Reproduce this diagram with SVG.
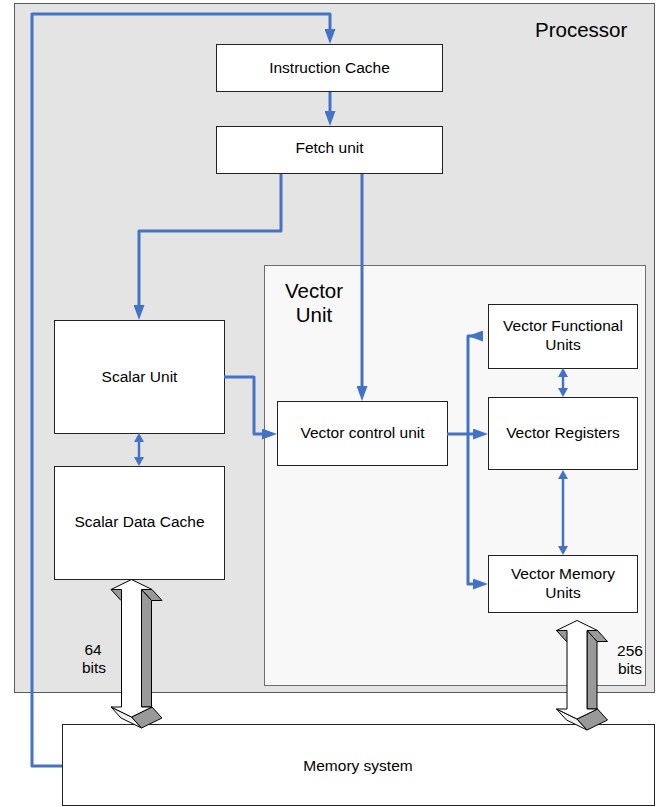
<svg xmlns="http://www.w3.org/2000/svg" width="667" height="807" viewBox="0 0 667 807">
  <style>
    .box { fill: #ffffff; stroke: #222222; stroke-width: 1; }
    .lbl { font-family: "Liberation Sans", Arial, sans-serif; font-size: 15.5px; fill: #000000; text-anchor: middle; }
    .big { font-family: "Liberation Sans", Arial, sans-serif; font-size: 20.5px; fill: #000000; }
    .wire { fill: none; stroke: #4472c4; stroke-width: 3; stroke-linejoin: round; }
    .thin { fill: none; stroke: #4472c4; stroke-width: 2.5; }
    .front { fill: #ffffff; stroke: #000000; stroke-width: 1; stroke-linejoin: miter; }
    .side { fill: #999999; stroke: #000000; stroke-width: 1; }
    .light { fill: #f2f2f2; stroke: #000000; stroke-width: 1; }
  </style>
  <defs>
    <marker id="head" markerUnits="userSpaceOnUse" markerWidth="15" markerHeight="11" refX="5" refY="5.5" orient="auto">
      <path d="M0,0 L15,5.5 L0,11 Z" fill="#4472c4"/>
    </marker>
    <marker id="small" markerUnits="userSpaceOnUse" markerWidth="9" markerHeight="10" refX="3" refY="5" orient="auto-start-reverse">
      <path d="M0,0 L9,5 L0,10 Z" fill="#4472c4"/>
    </marker>
  </defs>

  <rect width="667" height="807" fill="#ffffff"/>

  <!-- processor enclosure -->
  <g id="processor">
    <rect x="14.5" y="3.5" width="640" height="689" fill="#e4e4e4" stroke="#5a5a5a" stroke-width="1"/>
    <text class="big" x="535" y="37">Processor</text>
  </g>

  <!-- vector unit enclosure -->
  <g id="vector-unit">
    <rect x="264.5" y="265.5" width="381" height="420" fill="#f8f8f8" stroke="#6e6e6e" stroke-width="1"/>
    <text class="big" x="314" y="298" text-anchor="middle">Vector</text>
    <text class="big" x="314" y="322" text-anchor="middle">Unit</text>
  </g>

  <g id="instruction-cache">
    <rect class="box" x="216.5" y="44.5" width="226" height="47"/>
    <text class="lbl" x="329.5" y="73">Instruction Cache</text>
  </g>

  <g id="fetch-unit">
    <rect class="box" x="216.5" y="126.5" width="226" height="47"/>
    <text class="lbl" x="329.5" y="153">Fetch unit</text>
  </g>

  <g id="scalar-unit">
    <rect class="box" x="54.5" y="320.5" width="170" height="113"/>
    <text class="lbl" x="139.5" y="382">Scalar Unit</text>
  </g>

  <g id="scalar-data-cache">
    <rect class="box" x="54.5" y="466.5" width="170" height="113"/>
    <text class="lbl" x="139.5" y="527">Scalar Data Cache</text>
  </g>

  <g id="vector-control-unit">
    <rect class="box" x="277.5" y="401.5" width="170" height="64"/>
    <text class="lbl" x="362.5" y="438">Vector control unit</text>
  </g>

  <g id="vector-functional-units">
    <rect class="box" x="488.5" y="304.5" width="149" height="64"/>
    <text class="lbl" x="563" y="331">Vector Functional</text>
    <text class="lbl" x="563" y="350">Units</text>
  </g>

  <g id="vector-registers">
    <rect class="box" x="488.5" y="397.5" width="149" height="72"/>
    <text class="lbl" x="563" y="438">Vector Registers</text>
  </g>

  <g id="vector-memory-units">
    <rect class="box" x="488.5" y="555.5" width="149" height="57"/>
    <text class="lbl" x="563" y="579">Vector Memory</text>
    <text class="lbl" x="563" y="598">Units</text>
  </g>

  <g id="memory-system">
    <rect class="box" x="62.5" y="724.5" width="592" height="81"/>
    <text class="lbl" x="358" y="771">Memory system</text>
  </g>

  <!-- wide data paths between caches/vector memory and the memory system -->
  <g id="bus-64">
    <polygon class="light" points="111,707 131.5,717 141.5,728 121,718"/>
    <polygon class="side" points="131.5,717 152,707 162,718 141.5,728"/>
    <polygon class="side" points="141.5,589.5 152,589.5 162,600.5 151.5,600.5"/>
    <polygon class="side" points="111,589.5 121.5,589.5 131.5,600.5 121,600.5"/>
    <polygon class="side" points="141.5,589.5 151.5,600.5 151.5,707 141.5,707"/>
    <polygon class="front" points="131.5,579.5 152,589.5 141.5,589.5 141.5,707 152,707 131.5,717 111,707 121.5,707 121.5,589.5 111,589.5"/>
    <text class="lbl" x="93" y="655">64</text>
    <text class="lbl" x="94" y="673">bits</text>
  </g>

  <g id="bus-256">
    <polygon class="light" points="556.5,709 577,719 587,730 566.5,720"/>
    <polygon class="side" points="577,719 597.5,709 607.5,720 587,730"/>
    <polygon class="side" points="587,630.5 597.5,630.5 607.5,641.5 597,641.5"/>
    <polygon class="side" points="556.5,630.5 567,630.5 577,641.5 566.5,641.5"/>
    <polygon class="side" points="587,630.5 597,641.5 597,709 587,709"/>
    <polygon class="front" points="577,620.5 597.5,630.5 587,630.5 587,709 597.5,709 577,719 556.5,709 567,709 567,630.5 556.5,630.5"/>
    <text class="lbl" x="630" y="656">256</text>
    <text class="lbl" x="630" y="674">bits</text>
  </g>

  <!-- control and data connectors -->
  <g id="connectors">
    <path class="wire" d="M62,766 H32 V14 H330 V34" marker-end="url(#head)"/>
    <path class="wire" d="M330,92 V116" marker-end="url(#head)"/>
    <path class="wire" d="M281,174 V231 H139 V310" marker-end="url(#head)"/>
    <path class="wire" d="M362,174 V391" marker-end="url(#head)"/>
    <path class="wire" d="M224,377 H254 V434 H267" marker-end="url(#head)"/>
    <path class="wire" d="M447,434 H478" marker-end="url(#head)"/>
    <path class="wire" d="M478,336 H468 V584 H478" marker-start="url(#head)" marker-end="url(#head)"/>
    <path class="thin" d="M563,374 V391" marker-start="url(#small)" marker-end="url(#small)"/>
    <path class="thin" d="M563,476 V549" marker-start="url(#small)" marker-end="url(#small)"/>
    <path class="thin" d="M139,439 V460" marker-start="url(#small)" marker-end="url(#small)"/>
  </g>
</svg>
